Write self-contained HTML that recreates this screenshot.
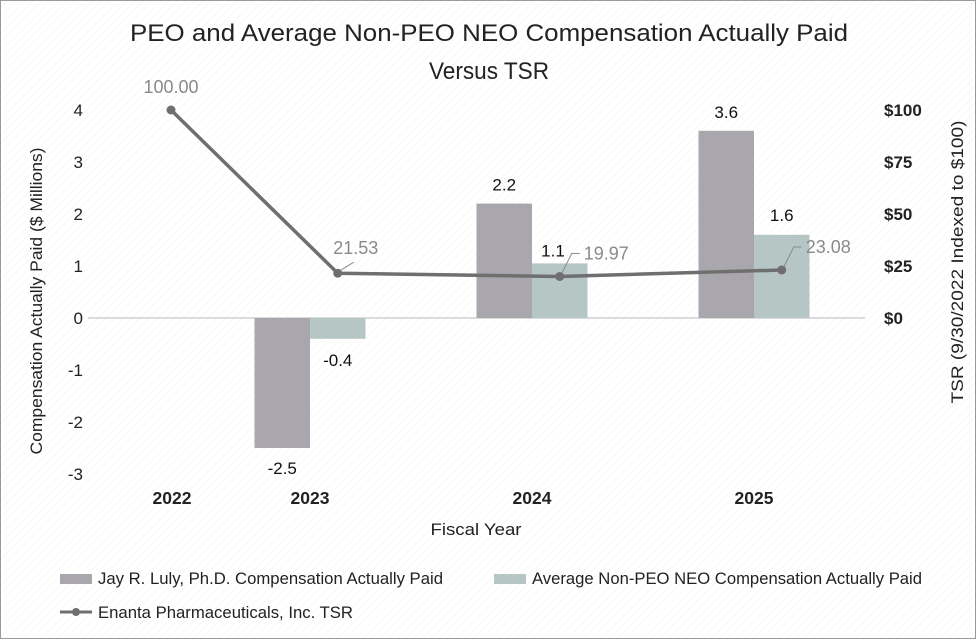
<!DOCTYPE html>
<html><head><meta charset="utf-8"><style>
html,body{margin:0;padding:0;background:#fff}
svg{display:block;font-family:"Liberation Sans",sans-serif}
</style></head><body>
<svg id="chart" width="976" height="639" viewBox="0 0 976 639">
<defs>
<pattern id="bg" width="6" height="6" patternUnits="userSpaceOnUse" patternTransform="rotate(45)"><rect width="6" height="6" fill="#fff"/><line x1="0" y1="0" x2="0" y2="6" stroke="#f2f2f2" stroke-width="1"/></pattern>
</defs>
<rect x="0.5" y="0.5" width="975" height="638" fill="url(#bg)" stroke="#9a9a9a"/>
<text x="489" y="41" font-size="24" text-anchor="middle" fill="#222" textLength="718" lengthAdjust="spacingAndGlyphs">PEO and Average Non-PEO NEO Compensation Actually Paid</text>
<text x="489" y="79" font-size="24" text-anchor="middle" fill="#222" textLength="120" lengthAdjust="spacingAndGlyphs">Versus TSR</text>
<text transform="translate(42,301) rotate(-90)" font-size="17" text-anchor="middle" fill="#222" textLength="307" lengthAdjust="spacingAndGlyphs">Compensation Actually Paid ($ Millions)</text>
<text transform="translate(963,262) rotate(-90)" font-size="17" text-anchor="middle" fill="#222" textLength="283" lengthAdjust="spacingAndGlyphs">TSR (9/30/2022 Indexed to $100)</text>
<text x="476" y="535" font-size="17" text-anchor="middle" fill="#222" textLength="91" lengthAdjust="spacingAndGlyphs">Fiscal Year</text>
<g id="plot"></g>
<g>
<rect x="60" y="574" width="32" height="10" fill="#a9a6ad"/>
<text x="98" y="584" font-size="16.5" fill="#222" textLength="345" lengthAdjust="spacingAndGlyphs">Jay R. Luly, Ph.D. Compensation Actually Paid</text>
<rect x="494" y="574" width="32" height="10" fill="#b5c6c4"/>
<text x="532" y="584" font-size="16.5" fill="#222" textLength="390" lengthAdjust="spacingAndGlyphs">Average Non-PEO NEO Compensation Actually Paid</text>
<line x1="60" y1="612" x2="92" y2="612" stroke="#6f6f6f" stroke-width="3"/>
<circle cx="76" cy="612" r="4" fill="#6f6f6f"/>
<text x="98" y="618" font-size="16.5" fill="#222" textLength="255" lengthAdjust="spacingAndGlyphs">Enanta Pharmaceuticals, Inc. TSR</text>
</g>
</svg>
<script>
const categories = ["2022","2023","2024","2025"];
const peoValues = [null,-2.5,2.2,3.6];
const neoValues = [null,-0.4,1.05,1.6];
const neoLabels = ["","-0.4","1.1","1.6"];
const peoLabels = ["","-2.5","2.2","3.6"];
const tsrValues = [100,21.53,19.97,23.08];
const tsrLabels = ["100.00","21.53","19.97","23.08"];
const leftTicks = [4,3,2,1,0,-1,-2,-3];
const rightTicks = [100,75,50,25,0];
const rightTickLabels = ["$100","$75","$50","$25","$0"];

const NS="http://www.w3.org/2000/svg";
const g=document.getElementById('plot');
function el(t,a,p){const e=document.createElementNS(NS,t);for(const k in a)e.setAttribute(k,a[k]);(p||g).appendChild(e);return e;}
const y0=318, unit=52;
function yL(v){return y0-v*unit;}
function yR(v){return y0-v*2.08;}
const band=222, barW=55.5;
function xC(i){return 88+i*band;}
function xLabel(i){return i===0?172:xC(i);}
function xLine(i){return i===0?171:xC(i)+barW/2;}

leftTicks.forEach((t,i)=>{const e=el('text',{x:83,y:yL(t)+6,'font-size':17,'text-anchor':'end',fill:'#222'});e.textContent=String(t);

});
rightTicks.forEach((t,i)=>{const e=el('text',{x:884,y:yR(t)+6,'font-size':17,'font-weight':'bold',fill:'#222'});e.textContent=rightTickLabels[i];

});
const zl=el('line',{x1:88,y1:y0,x2:865,y2:y0,stroke:'#d0d0d0','stroke-width':1.5});



categories.forEach((c,i)=>{
 const e=el('text',{x:xLabel(i),y:504,'font-size':17.5,'font-weight':'bold','text-anchor':'middle',fill:'#222'});e.textContent=c;
 
 
 if(peoValues[i]!==null){
  const v=peoValues[i],x=xC(i)-barW;
  const r=el('rect',{x:x,y:Math.min(yL(v),y0),width:barW,height:Math.abs(yL(v)-y0),fill:'#a9a6ad'});
  
  
  const t=el('text',{x:x+barW/2,y:v>=0?yL(v)-13:yL(v)+26,'font-size':17,'text-anchor':'middle',fill:'#111'});t.textContent=peoLabels[i];
  
  
 }
 if(neoValues[i]!==null){
  const v=neoValues[i],x=xC(i);
  const r=el('rect',{x:x,y:Math.min(yL(v),y0),width:barW,height:Math.abs(yL(v)-y0),fill:'#b5c6c4'});
  
  
  const t=el('text',{x:v>=0&&i===2?x+21:x+barW/2,y:v>=0?(i===2?yL(v)-7:yL(v)-14):yL(v)+27,'font-size':17,'text-anchor':'middle',fill:'#111'});t.textContent=neoLabels[i];
  
  
 }
});
const pts=tsrValues.map((v,i)=>xLine(i)+','+yR(v)).join(' ');
const pl=el('polyline',{points:pts,fill:'none',stroke:'#6f6f6f','stroke-width':3.5,'stroke-linejoin':'round'});


tsrValues.forEach((v,i)=>{
 const x=xLine(i),y=yR(v);
 const c=el('circle',{cx:x,cy:y,r:4.5,fill:'#6f6f6f'});
 
 
 let lx,ly,anchor='middle';
 if(i===0){lx=x;ly=y-17;}
 else if(i===1){lx=x+18;ly=y-19;el('line',{x1:x+3,y1:y-3,x2:x+16,y2:y-11,stroke:'#8a8a8a','stroke-width':1});}
 else{lx=x+24;ly=y-17;anchor='start';el('polyline',{points:(x+2)+','+(y-3)+' '+(x+12)+','+(y-23)+' '+(x+20)+','+(y-23),fill:'none',stroke:'#8a8a8a','stroke-width':1});}
 const t=el('text',{x:lx,y:ly,'font-size':18,'text-anchor':anchor,fill:'#8a8a8a'});t.textContent=tsrLabels[i];
 
 
});
</script>
</body></html>
